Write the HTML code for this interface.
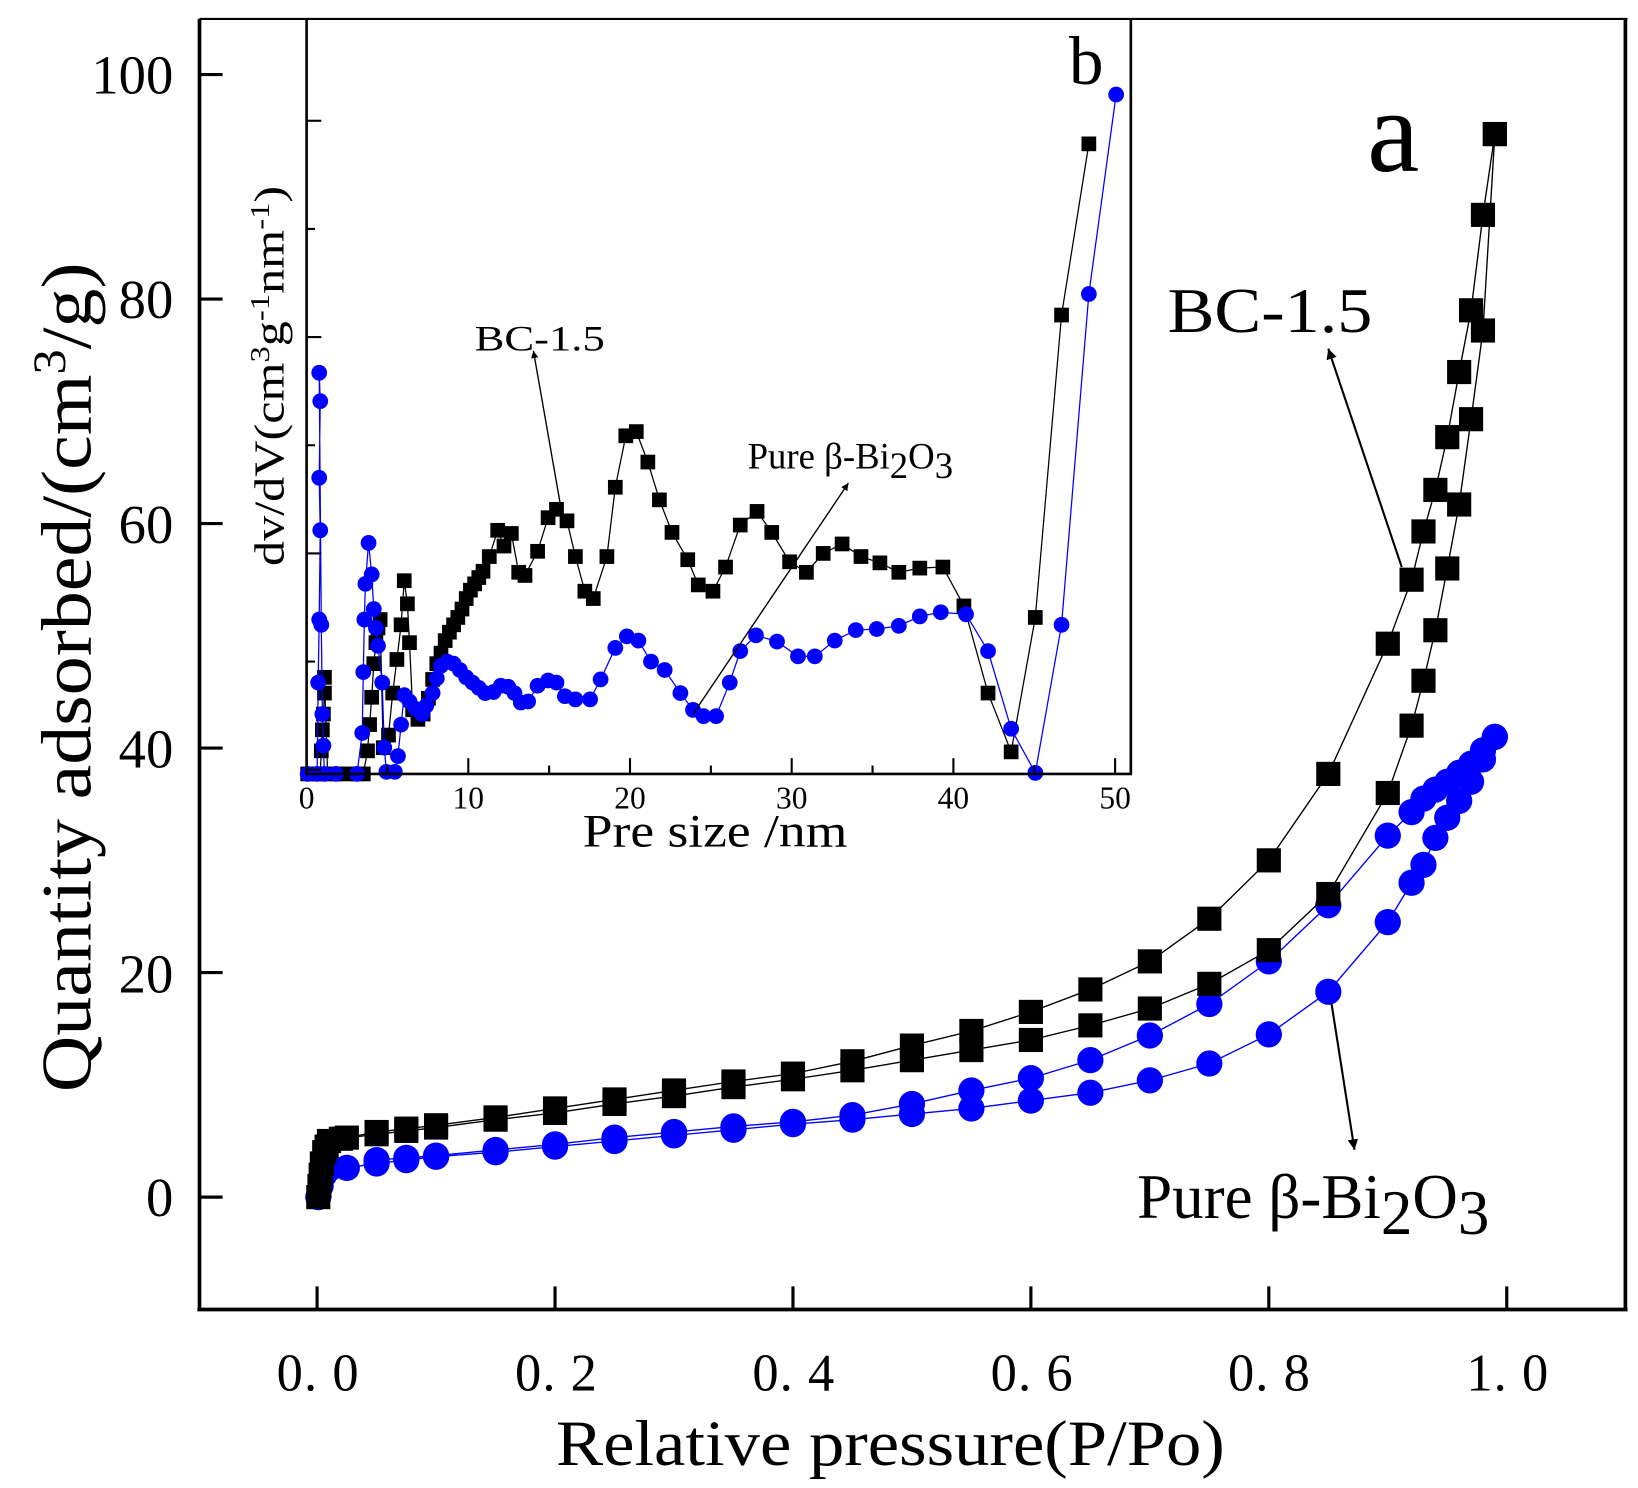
<!DOCTYPE html>
<html><head><meta charset="utf-8"><style>
html,body{margin:0;padding:0;background:#fff;}
svg{display:block;}
text,tspan{font-family:"Liberation Serif","Times New Roman",serif;fill:#000;}
</style></head><body>
<svg id="s" width="1638" height="1488" viewBox="0 0 1560 1417" preserveAspectRatio="none" xmlns="http://www.w3.org/2000/svg" font-family="Liberation Serif, serif">
<defs>
<marker id="ah" viewBox="0 0 10 10" refX="10" refY="5" markerWidth="10" markerHeight="14" orient="auto" markerUnits="userSpaceOnUse"><path d="M0,0 L10,5 L0,10 z" fill="#000"/></marker>
<marker id="ah2" viewBox="0 0 10 10" refX="10" refY="5" markerWidth="7" markerHeight="9" orient="auto" markerUnits="userSpaceOnUse"><path d="M0,0 L10,5 L0,10 z" fill="#000"/></marker>
</defs>
<rect x="0" y="0" width="1560" height="1417" fill="#fff"/>
<g id="main"></g>
<g id="inset"></g>
<line x1="190" y1="18" x2="1550" y2="18" stroke="#000" stroke-width="2"/>
<line x1="190" y1="18" x2="190" y2="1248" stroke="#000" stroke-width="3.5"/>
<line x1="1548" y1="18" x2="1548" y2="1248" stroke="#000" stroke-width="3.5"/>
<line x1="188" y1="1247" x2="1550" y2="1247" stroke="#000" stroke-width="3.5"/>
<g id="ticks"></g>
<g font-size="52" text-anchor="end">
<text x="165" y="1158">0</text>
<text x="165" y="945">20</text>
<text x="165" y="731">40</text>
<text x="165" y="517">60</text>
<text x="165" y="303">80</text>
<text x="165" y="89">100</text>
</g>
<g font-size="50" text-anchor="middle" letter-spacing="1">
<text x="303" y="1324">0. 0</text>
<text x="530" y="1324">0. 2</text>
<text x="756" y="1324">0. 4</text>
<text x="983" y="1324">0. 6</text>
<text x="1209" y="1324">0. 8</text>
<text x="1436" y="1324">1. 0</text>
</g>
<text x="848" y="1395" font-size="62" text-anchor="middle" textLength="637" lengthAdjust="spacingAndGlyphs">Relative pressure(P/Po)</text>
<text transform="translate(86,645) rotate(-90)" font-size="68" text-anchor="middle" textLength="790" lengthAdjust="spacingAndGlyphs">Quantity adsorbed/(cm<tspan font-size="44" dy="-24">3</tspan><tspan dy="24">/g)</tspan></text>
<text x="1302" y="163" font-size="112">a</text>
<text x="1112" y="316" font-size="60" textLength="195" lengthAdjust="spacingAndGlyphs">BC-1.5</text>
<line x1="1335" y1="540" x2="1265" y2="332" stroke="#000" stroke-width="2" marker-end="url(#ah)"/>
<text x="1083" y="1160" font-size="60">Pure β-Bi<tspan dy="15">2</tspan><tspan dy="-15">O</tspan><tspan dy="15">3</tspan></text>
<line x1="1268" y1="955" x2="1290" y2="1095" stroke="#000" stroke-width="2" marker-end="url(#ah)"/>
<line x1="292" y1="18" x2="292" y2="737" stroke="#000" stroke-width="2.5"/>
<line x1="1077" y1="18" x2="1077" y2="737" stroke="#000" stroke-width="2.5"/>
<line x1="291" y1="737" x2="1078" y2="737" stroke="#000" stroke-width="2.5"/>
<g font-size="30" text-anchor="middle">
<text x="292" y="770">0</text><text x="446" y="770">10</text><text x="600" y="770">20</text><text x="754" y="770">30</text><text x="908" y="770">40</text><text x="1062" y="770">50</text>
</g>
<text x="681" y="806" font-size="44" text-anchor="middle" textLength="252" lengthAdjust="spacingAndGlyphs">Pre size /nm</text>
<text transform="translate(270,358) rotate(-90)" font-size="40" text-anchor="middle" textLength="362" lengthAdjust="spacingAndGlyphs">dv/dV(cm<tspan font-size="26" dy="-14">3</tspan><tspan dy="14">g</tspan><tspan font-size="26" dy="-14">-1</tspan><tspan dy="14">nm</tspan><tspan font-size="26" dy="-14">-1</tspan><tspan dy="14">)</tspan></text>
<text x="1018" y="80" font-size="66">b</text>
<text x="452" y="334" font-size="34" textLength="124" lengthAdjust="spacingAndGlyphs">BC-1.5</text>
<line x1="535" y1="488" x2="508" y2="334" stroke="#000" stroke-width="1.3" marker-end="url(#ah2)"/>
<text x="712" y="446" font-size="35">Pure β-Bi<tspan dy="9">2</tspan><tspan dy="-9">O</tspan><tspan dy="9">3</tspan></text>
<line x1="660" y1="680" x2="808" y2="460" stroke="#000" stroke-width="1.3" marker-end="url(#ah2)"/>
</svg>
<script>
var NS="http://www.w3.org/2000/svg";
function el(p,t,a){var e=document.createElementNS(NS,t);for(var k in a)e.setAttribute(k,a[k]);p.appendChild(e);return e;}
var T=document.getElementById('ticks');
for(var i=0;i<=5;i++){var x=302+226.6*i;el(T,'line',{x1:x,y1:1247,x2:x,y2:1225,stroke:'#000','stroke-width':3});}
for(var i=0;i<=5;i++){var y=1140-213.8*i;el(T,'line',{x1:190,y1:y,x2:212,y2:y,stroke:'#000','stroke-width':3});}
for(var i=0;i<=10;i++){var x=292+77*i;el(T,'line',{x1:x,y1:737,x2:x,y2:i%2?729:722,stroke:'#000','stroke-width':2});}
for(var i=0;i<7;i++){var y=733-103*i;el(T,'line',{x1:292,y1:y,x2:i%2?300:306,y2:y,stroke:'#000','stroke-width':2});}
function X(p){return 302+1133*p;}function Y(v){return 1140-10.69*v;}
var bA=[[0.001,0],[0.002,1],[0.003,2],[0.004,3],[0.006,4],[0.008,4.5],[0.01,5],[0.02,5.2],[0.05,5.6],[0.075,5.9],[0.1,6.2],[0.15,6.9],[0.2,7.5],[0.25,8.3],[0.3,9.0],[0.35,9.8],[0.4,10.5],[0.45,11.3],[0.5,12.2],[0.55,13.1],[0.6,14.0],[0.65,15.3],[0.7,16.8],[0.75,19.0],[0.8,22.0],[0.85,27],[0.9,36],[0.92,42],[0.93,46],[0.94,50.5],[0.95,56],[0.96,61.7],[0.97,69.3],[0.98,77.2],[0.99,94.7]];
var bD=[[0.99,94.7],[0.98,87.5],[0.97,79],[0.96,73.5],[0.95,67.7],[0.94,63],[0.93,59.3],[0.92,55],[0.9,49.3],[0.85,37.7],[0.8,30],[0.75,24.8],[0.7,21],[0.65,18.5],[0.6,16.5],[0.55,14.8],[0.5,13.5],[0.45,12.1],[0.4,11.0],[0.35,10.3],[0.3,9.5],[0.25,8.7],[0.2,7.9],[0.15,7.1],[0.1,6.4],[0.075,6.1],[0.05,5.8],[0.025,5.3]];
var cA=[[0.001,0],[0.003,1],[0.006,2],[0.01,2.5],[0.025,2.6],[0.05,3.0],[0.075,3.3],[0.1,3.6],[0.15,4.0],[0.2,4.5],[0.25,5.0],[0.3,5.5],[0.35,6.0],[0.4,6.5],[0.45,6.9],[0.5,7.4],[0.55,7.9],[0.6,8.6],[0.65,9.3],[0.7,10.4],[0.75,11.9],[0.8,14.5],[0.85,18.3],[0.9,24.5],[0.92,28],[0.93,29.6],[0.94,32],[0.95,33.8],[0.96,35.3],[0.97,37],[0.98,39],[0.99,41]];
var cD=[[0.99,41],[0.98,39.8],[0.97,38.6],[0.96,37.8],[0.95,37],[0.94,36.3],[0.93,35.5],[0.92,34.3],[0.9,32.2],[0.85,26],[0.8,21],[0.75,17.2],[0.7,14.4],[0.65,12.2],[0.6,10.6],[0.55,9.5],[0.5,8.3],[0.45,7.3],[0.4,6.7],[0.35,6.3],[0.3,5.8],[0.25,5.3],[0.2,4.7],[0.15,4.2],[0.1,3.7],[0.075,3.5],[0.05,3.3]];
var M=document.getElementById('main');
function series(g,pts,col,sq,sz,lw){
 el(g,'polyline',{points:pts.map(function(p){return p[0]+','+p[1]}).join(' '),fill:'none',stroke:col,'stroke-width':lw});
 pts.forEach(function(p){ if(sq)el(g,'rect',{x:p[0]-sz/2,y:p[1]-sz/2,width:sz,height:sz,fill:col}); else el(g,'circle',{cx:p[0],cy:p[1],r:sz/2,fill:col});});
}
function m(a){return a.map(function(p){return [X(p[0]),Y(p[1])]});}
series(M,m(cA),'#0000ff',false,25,1.3);series(M,m(cD),'#0000ff',false,25,1.3);
series(M,m(bA),'#000',true,23,1.3);series(M,m(bD),'#000',true,23,1.3);
var I=document.getElementById('inset');
var bi=[[293,737],[300,737],[305,737],[306,715],[307,695],[308,680],[309,660],[309,645],[312,737],[320,737],[330,737],[340,737],[346,737],[350,715],[352,690],[354,664],[356,632],[358,612],[360,598],[362,590],[365,712],[370,700],[374,660],[378,628],[382,595],[385,553],[388,575],[390,612],[393,676],[398,685],[403,680],[408,665],[412,647],[416,632],[420,622],[424,610],[428,602],[432,595],[436,588],[440,580],[444,570],[448,562],[452,556],[456,550],[460,544],[466,530],[474,505],[480,520],[487,508],[494,545],[500,548],[512,525],[522,493],[530,485],[540,496],[548,530],[557,563],[565,570],[578,530],[586,464],[596,415],[606,411],[617,440],[628,476],[640,507],[655,533],[665,557],[679,563],[691,540],[705,500],[721,487],[735,507],[752,535],[768,545],[784,527],[802,518],[820,530],[838,536],[856,545],[876,541],[898,540],[918,577],[941,660],[963,716],[986,588],[1011,300],[1037,137]];
var ci=[[293,737],[302,737],[303,650],[304,590],[305,505],[304,455],[305,382],[304,355],[306,595],[307,680],[308,710],[309,737],[320,737],[340,737],[345,698],[346,640],[347,590],[348,556],[351,517],[354,547],[356,580],[358,598],[360,615],[364,650],[366,712],[368,735],[376,735],[379,720],[382,690],[385,662],[390,668],[396,675],[402,680],[406,672],[412,660],[416,646],[420,634],[426,630],[432,632],[438,638],[444,645],[450,650],[456,655],[462,660],[470,659],[477,653],[484,654],[490,660],[496,669],[503,668],[512,653],[522,648],[530,650],[538,663],[548,666],[562,666],[572,647],[586,617],[597,606],[608,610],[620,630],[633,638],[648,660],[660,676],[670,682],[682,682],[695,650],[705,620],[720,605],[740,611],[760,625],[776,625],[795,610],[815,600],[835,599],[856,596],[876,587],[896,583],[920,585],[941,620],[963,694],[986,736],[1011,595],[1037,280],[1063,90]];
series(I,bi,'#000',true,14,1.2);
series(I,ci,'#0000ff',false,15,1.2);
</script>
</body></html>
